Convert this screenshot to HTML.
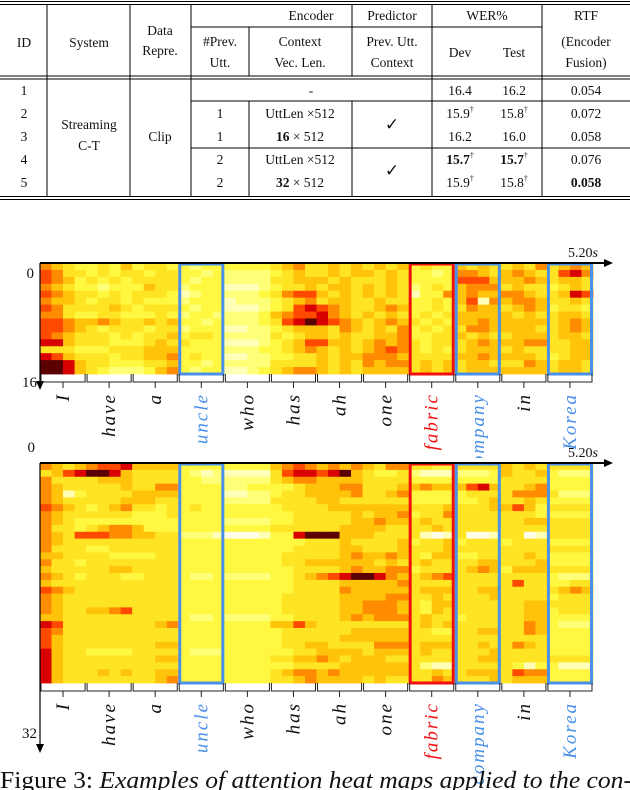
<!DOCTYPE html>
<html><head><meta charset="utf-8">
<style>
html,body{margin:0;padding:0;background:#fff;}
svg{display:block;font-family:"Liberation Serif",serif;}
</style></head>
<body>
<svg id="fig" width="630" height="790" viewBox="0 0 630 790">
<g id="table" font-size="13.5" fill="#111" text-anchor="middle">
  <line x1="0" y1="1.5" x2="630" y2="1.5" stroke="#000" stroke-width="1"/>
  <line x1="0" y1="4.5" x2="630" y2="4.5" stroke="#000" stroke-width="1"/>
  <line x1="191" y1="27" x2="542" y2="27" stroke="#000"/>
  <line x1="0" y1="76" x2="630" y2="76" stroke="#000"/>
  <line x1="0" y1="79" x2="630" y2="79" stroke="#000"/>
  <line x1="191" y1="101" x2="630" y2="101" stroke="#000"/>
  <line x1="191" y1="148" x2="630" y2="148" stroke="#000"/>
  <line x1="0" y1="196.5" x2="630" y2="196.5" stroke="#000"/>
  <line x1="0" y1="199.5" x2="630" y2="199.5" stroke="#000"/>
  <g stroke="#000">
    <line x1="47" y1="5" x2="47" y2="196"/>
    <line x1="130" y1="5" x2="130" y2="196"/>
    <line x1="191" y1="5" x2="191" y2="196"/>
    <line x1="249" y1="27" x2="249" y2="76"/>
    <line x1="249" y1="101" x2="249" y2="196"/>
    <line x1="352" y1="5" x2="352" y2="76"/>
    <line x1="352" y1="101" x2="352" y2="196"/>
    <line x1="432" y1="5" x2="432" y2="196"/>
    <line x1="542" y1="5" x2="542" y2="196"/>
  </g>
  <text x="24" y="47">ID</text>
  <text x="89" y="47">System</text>
  <text x="160" y="35">Data</text>
  <text x="160" y="55">Repre.</text>
  <text x="311" y="20">Encoder</text>
  <text x="220" y="46">#Prev.</text>
  <text x="220" y="67">Utt.</text>
  <text x="300" y="46">Context</text>
  <text x="300" y="67">Vec. Len.</text>
  <text x="392" y="20">Predictor</text>
  <text x="392" y="46">Prev. Utt.</text>
  <text x="392" y="67">Context</text>
  <text x="487" y="20">WER%</text>
  <text x="460" y="57">Dev</text>
  <text x="514" y="57">Test</text>
  <text x="586" y="20">RTF</text>
  <text x="586" y="46">(Encoder</text>
  <text x="586" y="67">Fusion)</text>

  <text x="24" y="95">1</text><text x="24" y="118">2</text><text x="24" y="141">3</text><text x="24" y="164">4</text><text x="24" y="187">5</text>
  <text x="89" y="129">Streaming</text><text x="89" y="150">C-T</text>
  <text x="160" y="141">Clip</text>
  <text x="311" y="95">-</text>
  <text x="460" y="95">16.4</text><text x="514" y="95">16.2</text><text x="586" y="95">0.054</text>
  <text x="220" y="118">1</text><text x="300" y="118">UttLen ×512</text>
  <text x="460" y="118">15.9<tspan font-size="8" dy="-6">†</tspan></text><text x="514" y="118">15.8<tspan font-size="8" dy="-6">†</tspan></text><text x="586" y="118">0.072</text>
  <text x="392" y="130" font-size="17" font-family="DejaVu Sans">✓</text>
  <text x="220" y="141">1</text><text x="300" y="141"><tspan font-weight="bold">16</tspan> × 512</text>
  <text x="460" y="141">16.2</text><text x="514" y="141">16.0</text><text x="586" y="141">0.058</text>
  <text x="220" y="164">2</text><text x="300" y="164">UttLen ×512</text>
  <text x="460" y="164" font-weight="bold">15.7<tspan font-size="8" dy="-6" font-weight="normal">†</tspan></text><text x="514" y="164" font-weight="bold">15.7<tspan font-size="8" dy="-6" font-weight="normal">†</tspan></text><text x="586" y="164">0.076</text>
  <text x="392" y="176" font-size="17" font-family="DejaVu Sans">✓</text>
  <text x="220" y="187">2</text><text x="300" y="187"><tspan font-weight="bold">32</tspan> × 512</text>
  <text x="460" y="187">15.9<tspan font-size="8" dy="-6">†</tspan></text><text x="514" y="187">15.8<tspan font-size="8" dy="-6">†</tspan></text><text x="586" y="187" font-weight="bold">0.058</text>
</g>
<g id="hm1"></g>
<rect x="0" y="458" width="630" height="332" fill="#fff"/>
<g id="hm2"></g>
<text x="0" y="788" font-size="24" textLength="632" lengthAdjust="spacingAndGlyphs" fill="#111">Figure 3: <tspan font-style="italic">Examples of attention heat maps applied to the con-</tspan></text>
</svg>
<script>
const words = ["I","have","a","uncle","who","has","ah","one","fabric","company","in","Korea"];
const wordColors = ["#111","#111","#111","#4a8fe8","#111","#111","#111","#111","#f01010","#4a8fe8","#111","#4a8fe8"];
const highlightWords = [3,8,9,11];
const highlightColors = ["#4a8fe8","#f01010","#4a8fe8","#4a8fe8"];
const colorScale = ['#fffde8','#ffffb8','#ffff78','#fff740','#ffe424','#ffc40a','#ff8c00','#ff4a00','#d80000','#5a0000'];
const endLabel = "5.20s";
const heat16 = [
"654334353443323333334564454545453433545445464565",
"764434344344332322223454454554543323665456544786",
"765343434444323322224455545444543333777555654554",
"654332333544233311123445455454542343566645443454",
"765443434443123322234677545454541336565566544587",
"655434434333233312223456455445443343571656654454",
"764444543444323311123478765445653343465545653443",
"664334433343233222235677865454543434555554544554",
"776556544545332322234789876545654343556555554565",
"776543444344233311223455546545463434466555544565",
"765444343445344322224345545445563344545445554554",
"885444333454433311123457755456564344456555664455",
"444333444555333322233456545456764343455545444455",
"875444344556343311223344545566654444556555543455",
"998544333445332322224444545465664545455444654554",
"998543222356323311234566545455554545455555554554"];
const heat32 = [
"654567785555333333335676565654664433444454544444",
"457899854444321211114788789543342111222354453222",
"644445554444332222224566555544443333333344443333",
"654444454466333322333345556644455655578544563333",
"651344445555333311223445555644563333344446664222",
"654444455544333322224444554444443333334544543333",
"765434564434343333333444455555554445444557534444",
"654444443334333333333344444545563446444444433333",
"654333333333333322223344444556554544444444554444",
"644345665333333333334444445555444454444444444444",
"654777665544222100013389995554444101400144014444",
"654444444444333333333334445444453445344434443333",
"644433444444333333333344445544454445444444444444",
"554444333344333333333444445655654355334444543333",
"644344444444333333333445555554544544445544453333",
"544444554444333333333344445655663444456535554444",
"654344433444322322223345678998654567444444443222",
"544444444444333333333344445555564444444447443344",
"765444444444333333333344446555554555445544444565",
"654444444444333333333444445555664454444544443444",
"654444444444333333333444445566654355444444554444",
"654455674444333333333444445566654354444444553444",
"554444444444322322223344445656664544344444553333",
"874444444456333333335575444444444545444444653222",
"764444444444333333333444444555554433445544653333",
"754444444444333333333444445555554444444444443333",
"754444444455333333333445544446664555445446543333",
"854433334444322233333344555545554544444544443333",
"854444444455333333334455654555444444445544444444",
"854444444444333333333344445555554211444443133111",
"854445454455333333334566565555554454455547663333",
"854444444456333333334456555545444465444545553333"];
const NS='http://www.w3.org/2000/svg';
function mk(parent,tag,attrs){const e=document.createElementNS(NS,tag);for(const k in attrs)e.setAttribute(k,attrs[k]);parent.appendChild(e);return e;}
function drawHeat(gid,data,top,bottom,maxLabel){
  const g=document.getElementById(gid);
  const left=40,right=593;
  const rows=data.length,cols=data[0].length;
  const xScale=c=>left+(right-left)*c/cols;
  const yScale=r=>top+(bottom-top)*r/rows;
  const wordW=(right-left)/words.length;
  const wx=i=>left+wordW*i;
  for(let r=0;r<rows;r++){for(let c=0;c<cols;c++){
    const v=+data[r][c];
    const x0=xScale(c),y0=yScale(r);
    const rc=mk(g,'rect',{x:x0.toFixed(2),y:y0.toFixed(2),width:(xScale(c+1)-x0+0.4).toFixed(2),height:(yScale(r+1)-y0+0.4).toFixed(2),fill:colorScale[v]});
    
    
  }}
  highlightWords.forEach((wi,k)=>{
    const b=mk(g,'rect',{x:wx(wi)+1.5,y:top+1,width:wordW-3,height:bottom-top-1,fill:'none',stroke:highlightColors[k],'stroke-width':3});
    
    
  });
  const ta=mk(g,'line',{x1:left,y1:top,x2:605,y2:top,stroke:'#000','stroke-width':2});
  
  
  mk(g,'path',{d:`M604 ${top-4} L613 ${top} L604 ${top+4} Z`,fill:'#000'});
  const tl=mk(g,'text',{x:598,y:top-6,'font-size':14,'text-anchor':'end',fill:'#111'});
  tl.textContent='5.20';
  const ts=mk(tl,'tspan',{'font-style':'italic'});ts.textContent='s';
  
  
  const axBottom = rows===16 ? 383 : 746;
  const va=mk(g,'line',{x1:left,y1:top,x2:left,y2:axBottom,stroke:'#000','stroke-width':1.2});
  
  
  mk(g,'path',{d:`M${left-4} ${axBottom-2} L${left} ${axBottom+7} L${left+4} ${axBottom-2} Z`,fill:'#000'});
  const z=mk(g,'text',{x:rows===16?34:35,y:rows===16?top+15:top-11,'font-size':15,'text-anchor':'end',fill:'#111'});
  z.textContent='0';
  
  
  const m=mk(g,'text',{x:37,y:rows===16?bottom+13:738,'font-size':15,'text-anchor':'end',fill:'#111'});
  m.textContent=maxLabel;
  
  
  words.forEach((w,i)=>{
    const x0=wx(i)+1,x1=wx(i+1)-1,cx=wx(i)+wordW/2;
    const br=mk(g,'path',{d:`M${x0} ${bottom} L${x0} ${bottom+8} L${x1} ${bottom+8} L${x1} ${bottom} M${cx} ${bottom+8} L${cx} ${bottom+14}`,fill:'none',stroke:'#222','stroke-width':1});
    
    
    const ly=bottom+19;
    const t=mk(g,'text',{x:0,y:0,transform:`translate(${cx+6} ${ly}) rotate(-90)`,'text-anchor':'end','font-size':19,'font-style':'italic',fill:wordColors[i],'letter-spacing':'2'});
    t.textContent=w;
    
    
  });
}
drawHeat('hm1',heat16,263,374,'16');
drawHeat('hm2',heat32,463,683,'32');
</script>
</body></html>
